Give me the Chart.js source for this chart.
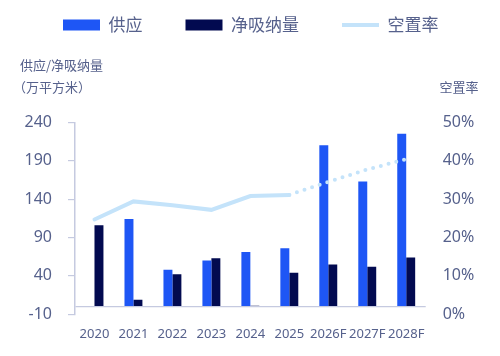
<!DOCTYPE html>
<html>
<head>
<meta charset="utf-8">
<script src="https://cdn.jsdelivr.net/npm/chart.js@4/dist/chart.umd.min.js"></script>
<style>
  html, body { margin: 0; padding: 0; background: #ffffff; }
  #wrap { width: 500px; height: 356px; position: relative; }
</style>
</head>
<body>
<div id="wrap"><canvas id="c" width="500" height="356"></canvas></div>
<script>
// ---- data ----
const categories = ['2020', '2021', '2022', '2023', '2024', '2025', '2026F', '2027F', '2028F'];
const supply = [null, 114, 48, 60, 71, 76, 210, 163, 225];
const netAbsorption = [106, 9, 42, 63, 1, 44, 55, 52, 64];
const vacancyRate = [24.7, 29.4, 28.4, 27.2, 30.8, 31.1, 34.5, 37.7, 40.4];
const seriesNames = ['供应', '净吸纳量', '空置率'];
const leftUnitLines = ['供应/净吸纳量', '（万平方米）'];
const rightUnitLabel = '空置率';
const leftTicks = { min: -10, max: 240, step: 50 };
const rightTicks = { min: 0, max: 50, step: 10 };
const forecastStartIndex = 5;

// ---- styles ----
const BLUE = '#1E56F5';
const NAVY = '#020A50';
const LIGHT = '#C4E3FA';
const AXIS = '#C5CAE0';
const TEXT = '#56618C';
const NUM_FONT = '"Noto Sans", "Noto Sans CJK SC", sans-serif';
const CJK_FONT = '"Noto Sans CJK SC", "Noto Sans", sans-serif';

const unitTitles = {
  id: 'unitTitles',
  afterDraw(chart) {
    const ctx = chart.ctx;
    ctx.save();
    ctx.fillStyle = TEXT;
    ctx.font = '13px ' + CJK_FONT;
    ctx.textBaseline = 'middle';
    ctx.textAlign = 'left';
    ctx.fillText(leftUnitLines[0], 20, 65);
    ctx.fillText(leftUnitLines[1], 13, 87.5);
    ctx.textAlign = 'right';
    ctx.fillText(rightUnitLabel, 478.5, 87.5);
    ctx.restore();
  }
};

new Chart(document.getElementById('c'), {
  data: {
    labels: categories,
    datasets: [
      {
        type: 'line',
        label: seriesNames[2],
        data: vacancyRate,
        yAxisID: 'y1',
        borderColor: LIGHT,
        backgroundColor: LIGHT,
        borderWidth: 4,
        borderCapStyle: 'round',
        pointRadius: 0,
        tension: 0,
        order: 0,
        segment: {
          borderDash: c => c.p0DataIndex >= forecastStartIndex ? [0, 8] : undefined
        }
      },
      {
        type: 'bar',
        label: seriesNames[0],
        data: supply,
        yAxisID: 'y',
        backgroundColor: BLUE,
        borderWidth: 0,
        barPercentage: 1,
        categoryPercentage: 0.46,
        order: 1
      },
      {
        type: 'bar',
        label: seriesNames[1],
        data: netAbsorption,
        yAxisID: 'y',
        backgroundColor: NAVY,
        borderWidth: 0,
        barPercentage: 1,
        categoryPercentage: 0.46,
        order: 1
      }
    ]
  },
  options: {
    responsive: false,
    animation: false,
    layout: { padding: { top: -26.5, left: 20, right: 0, bottom: 0 } },
    plugins: {
      tooltip: { enabled: false },
      legend: {
        display: true,
        position: 'top',
        align: 'start',
        weight: 3000,
        labels: {
          usePointStyle: true,
          pointStyleWidth: 37,
          boxHeight: 11,
          padding: 43,
          color: TEXT,
          font: { size: 17, family: CJK_FONT },
          generateLabels(chart) {
            const ds = chart.data.datasets;
            const order = [1, 2, 0];
            return order.map(i => {
              const d = ds[i];
              const isLine = d.type === 'line';
              return {
                text: d.label,
                datasetIndex: i,
                fillStyle: isLine ? 'rgba(0,0,0,0)' : d.backgroundColor,
                strokeStyle: isLine ? d.borderColor : d.backgroundColor,
                lineWidth: isLine ? 4 : 0,
                pointStyle: isLine ? 'line' : 'rect',
                fontColor: TEXT,
                hidden: false
              };
            });
          }
        }
      },
      title: {
        display: true,
        text: '',
        font: { size: 1 },
        padding: { top: 77.6, bottom: 0 }
      }
    },
    scales: {
      x: {
        type: 'category',
        grid: { display: false },
        border: { display: false },
        ticks: {
          color: TEXT,
          font: { size: 13, family: NUM_FONT },
          padding: 4,
          maxRotation: 0,
          autoSkip: false
        },
        afterFit(scale) { scale.height = 41.7; }
      },
      y: {
        type: 'linear',
        position: 'left',
        min: leftTicks.min,
        max: leftTicks.max,
        afterBuildTicks(scale) {
          const vals = scale.ticks.map(t => t.value);
          if (!vals.includes(0)) {
            scale.ticks.push({ value: 0 });
            scale.ticks.sort((a, b) => a.value - b.value);
          }
        },
        ticks: {
          stepSize: leftTicks.step,
          color: TEXT,
          font: { size: 16, family: NUM_FONT },
          padding: 16,
          autoSkip: false,
          callback: v => (v === 0 ? '' : v)
        },
        grid: {
          display: true,
          drawTicks: true,
          tickLength: 7,
          lineWidth: 1.2,
          color: c => (c.tick && c.tick.value === 0 ? AXIS : 'rgba(0,0,0,0)'),
          tickColor: c => (c.tick && c.tick.value === 0 ? 'rgba(0,0,0,0)' : AXIS)
        },
        border: { display: true, color: AXIS, width: 1.5 },
        afterFit(scale) { scale.width = 55; }
      },
      y1: {
        type: 'linear',
        position: 'right',
        min: rightTicks.min,
        max: rightTicks.max,
        ticks: {
          stepSize: rightTicks.step,
          color: TEXT,
          font: { size: 16, family: NUM_FONT },
          padding: 17,
          callback: v => v + '%'
        },
        grid: { display: false, drawTicks: false },
        border: { display: false },
        afterFit(scale) { scale.width = 74.3; }
      }
    }
  },
  plugins: [unitTitles]
});
</script>
</body>
</html>
